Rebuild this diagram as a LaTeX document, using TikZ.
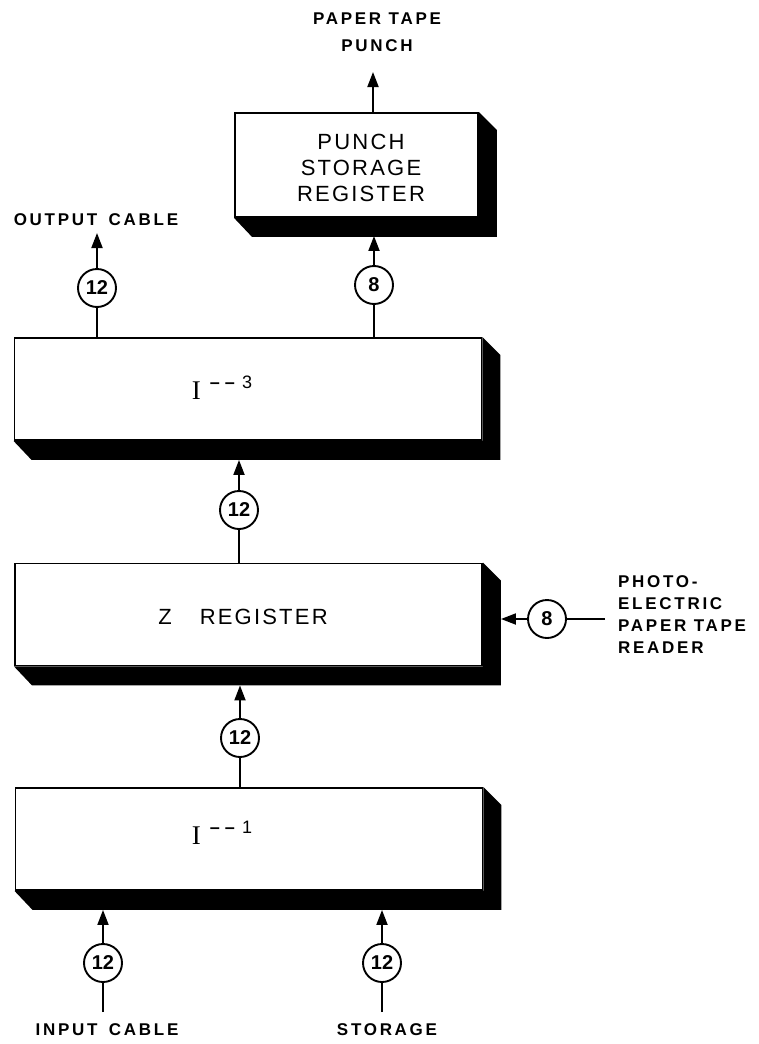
\documentclass[tikz,border=0pt]{standalone}
\usepackage{fontspec}
\setmainfont{Liberation Sans}
\newfontfamily\boxfont{Liberation Sans}[LetterSpace=10]
\newfontfamily\lblfont{Liberation Sans}[LetterSpace=16]
\newfontfamily\serfont{Liberation Serif}
\usetikzlibrary{positioning,arrows.meta,calc}
\tikzset{
    every node/.style={inner sep=0pt},
    regbox/.style={draw,fill=white,line width=1.9pt,minimum width=467pt,minimum height=102pt},
    boxtext/.style={font=\fontsize{22}{26}\selectfont\boxfont,align=center},
    extlabel/.style={font=\fontsize{17}{22}\selectfont\lblfont\bfseries,align=center},
    count/.style={circle,draw,fill=white,line width=1.9pt,minimum size=38pt,font=\fontsize{20}{20}\selectfont\bfseries},
    wire/.style={line width=1.9pt},
    feed/.style={wire,-{Triangle[length=15pt,width=11pt]}}
}
% black block shadow under and right of a register
\newcommand{\boxshade}[1]{%
  \fill (#1.south west) -- ++(18,19) -| ($(#1.north east)+(18,18)$) -- (#1.north east) -- (#1.south east) -- cycle;}
\newcommand{\itag}[1]{{\fontsize{27}{27}\selectfont\serfont I}\hspace{9pt}\raisebox{11pt}{\fontsize{18}{18}\selectfont\bfseries\textendash\hspace{5pt}\textendash\hspace{7pt}\mdseries#1}}

\begin{document}
\begin{tikzpicture}[x=1pt,y=-1pt]
\useasboundingbox (0,0) rectangle (758,1044);

% registers
\node[regbox,minimum width=243pt,minimum height=104pt] (punch) at (356.5,165) {};
\node[regbox] (ithree) at (248,389) {};
\node[regbox] (zreg) at (248.5,614.5) {};
\node[regbox] (ione) at (249,839) {};
\boxshade{punch}
\boxshade{ithree}
\boxshade{zreg}
\boxshade{ione}

\node[boxtext] (punchtxt) at (361,168) {PUNCH\\STORAGE\\REGISTER};
\node[boxtext] (ithreetxt) at (222,388) {\itag{3}};
\node[boxtext] (zregtxt) at (243,617) {Z\hspace{28pt}REGISTER};
\node[boxtext] (ionetxt) at (222,833) {\itag{1}};

% bit counts
\node[count] (outcnt) at (97,288) {12};
\node[count] (punchcnt) at (374,285) {8};
\node[count] (zcnt) at (239,510) {12};
\node[count] (ionecnt) at (240,738) {12};
\node[count] (inpcnt) at (103,963) {12};
\node[count] (stocnt) at (382,963) {12};
\node[count] (readcnt) at (547,619) {8};

% outside units
\node[extlabel] (outlbl) at (96,220) {OUTPUT\hspace{4pt} CABLE};
\node[extlabel,font=\fontsize{17}{27}\selectfont\lblfont\bfseries] (tapelbl) at (377,32) {PAPER TAPE\\PUNCH};
\node[extlabel] (inplbl) at (107,1030) {INPUT\hspace{4pt} CABLE};
\node[extlabel] (stolbl) at (387,1030) {STORAGE};
\node[extlabel,anchor=west,align=left] (readlbl) at (618,615) {PHOTO-\\ELECTRIC\\PAPER TAPE\\READER};

\coordinate (outtip) at (97,233);
\coordinate (tapetip) at (373,72);
\coordinate (inpend) at (103,1012);
\coordinate (stoend) at (382,1012);
\coordinate (readend) at (605,619);

% connectors
\draw[wire] (outcnt |- ithree.north) -- (outcnt);
\draw[feed] (outcnt) -- (outtip);
\draw[wire] (punchcnt |- ithree.north) -- (punchcnt);
\draw[feed] (punchcnt) -- ($(punchcnt |- punch.south)+(0,18)$);
\draw[feed] (punch.north -| tapetip) -- (tapetip);
\draw[wire] (zcnt |- zreg.north) -- (zcnt);
\draw[feed] (zcnt) -- ($(zcnt |- ithree.south)+(0,19)$);
\draw[wire] (ionecnt |- ione.north) -- (ionecnt);
\draw[feed] (ionecnt) -- ($(ionecnt |- zreg.south)+(0,19)$);
\draw[wire] (inpend) -- (inpcnt);
\draw[feed] (inpcnt) -- ($(inpcnt |- ione.south)+(0,19)$);
\draw[wire] (stoend) -- (stocnt);
\draw[feed] (stocnt) -- ($(stocnt |- ione.south)+(0,19)$);
\draw[wire] (readend) -- (readcnt);
\draw[feed] (readcnt) -- ($(readcnt -| zreg.east)+(18,0)$);
\end{tikzpicture}
\end{document}
